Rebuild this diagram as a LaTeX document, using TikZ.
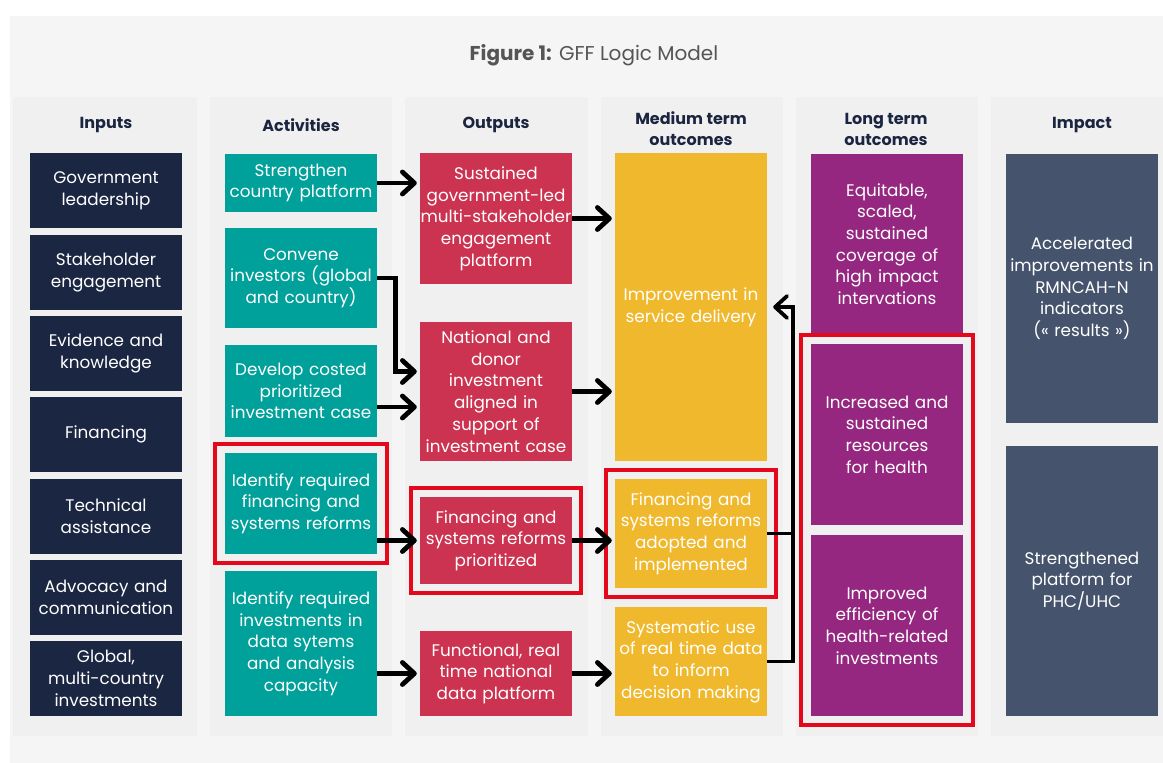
\documentclass[tikz,border=0pt]{standalone}
\usepackage{fontspec}
\setmainfont{Poppins}
\usetikzlibrary{arrows.meta,fit}
\definecolor{navybox}{RGB}{27,38,66}
\definecolor{tealbox}{RGB}{0,161,154}
\definecolor{crimbox}{RGB}{204,51,80}
\definecolor{yellbox}{RGB}{240,185,45}
\definecolor{purpbox}{RGB}{149,39,128}
\definecolor{slatebox}{RGB}{69,84,108}
\definecolor{redline}{RGB}{228,8,28}
\definecolor{hdrtext}{RGB}{27,37,64}
\definecolor{titlegray}{RGB}{85,85,85}
\definecolor{bgout}{RGB}{245,245,245}
\definecolor{bgpanel}{RGB}{240,240,240}

\begin{document}
\begin{tikzpicture}[x=1pt,y=1pt]
\tikzstyle{every node}+=[inner sep=0pt]
\tikzstyle{gffbox}=[rectangle, text width=152pt, align=center, text=white, font=\fontsize{16.8}{21.7}\selectfont]
\tikzstyle{inbox}=[gffbox, fill=navybox]
\tikzstyle{actbox}=[gffbox, fill=tealbox]
\tikzstyle{outbox}=[gffbox, fill=crimbox]
\tikzstyle{midbox}=[gffbox, fill=yellbox]
\tikzstyle{longbox}=[gffbox, fill=purpbox]
\tikzstyle{impbox}=[gffbox, fill=slatebox]
\tikzstyle{hdr}=[align=center, text=hdrtext, font=\fontsize{16}{21}\selectfont\bfseries]
\tikzstyle{redbox}=[draw=redline, line width=3.5pt, inner xsep=10pt, inner ysep=9pt]
\tikzstyle{feed}=[draw=black, line width=4.8pt]
\tikzstyle{arr}=[feed, -{Straight Barb[length=12pt,width=22pt,round]}, shorten >=3pt]
\fill[white] (0,0) rectangle (1163,-763);
\useasboundingbox (0,0) rectangle (1163,-763);
\fill[bgout] (10,-16) rectangle (1163,-763);
\fill[bgpanel] (13,-97) rectangle (197,-736);
\fill[bgpanel] (210,-97) rectangle (392,-736);
\fill[bgpanel] (405,-97) rectangle (588,-736);
\fill[bgpanel] (601,-97) rectangle (783,-736);
\fill[bgpanel] (796,-97) rectangle (978,-736);
\fill[bgpanel] (991,-97) rectangle (1163,-736);
\node[text=titlegray, font=\fontsize{20}{24}\selectfont] (title) at (594,-55) {\textbf{Figure 1:} GFF Logic Model};
\node[hdr] (hin) at (106,-125) {Inputs};
\node[hdr] (hact) at (301,-125) {Activities};
\node[hdr] (hout) at (496,-125) {Outputs};
\node[hdr] (hmid) at (691,-129) {Medium term\\outcomes};
\node[hdr] (hlong) at (886,-129) {Long term\\outcomes};
\node[hdr] (himp) at (1082,-125) {Impact};
\node[inbox, minimum height=75pt] (gov) at (106,-190.5) {Government\\leadership};
\node[inbox, minimum height=75pt] (stake) at (106,-272.5) {Stakeholder\\engagement};
\node[inbox, minimum height=75pt] (evid) at (106,-353.5) {Evidence and\\knowledge};
\node[inbox, minimum height=75pt] (fin) at (106,-434.5) {Financing};
\node[inbox, minimum height=75pt] (tech) at (106,-516.5) {Technical\\assistance};
\node[inbox, minimum height=75pt] (advo) at (106,-597.5) {Advocacy and\\communication};
\node[inbox, minimum height=75pt] (glob) at (106,-678.5) {Global,\\multi-country\\investments};
\node[actbox, minimum height=58pt] (strg) at (301,-183) {Strengthen\\country platform};
\node[actbox, minimum height=100pt] (conv) at (301,-278) {Convene\\investors (global\\and country)};
\node[actbox, minimum height=92pt] (devl) at (301,-391) {Develop costed\\prioritized\\investment case};
\node[actbox, minimum height=101pt] (idfin) at (301,-503.5) {Identify required\\financing and\\systems reforms};
\node[actbox, minimum height=145pt] (iddat) at (301,-643.5) {Identify required\\investments in\\data sytems\\and analysis\\capacity};
\node[outbox, minimum height=131pt] (sust) at (496,-218.5) {Sustained\\government-led\\multi-stakeholder\\engagement\\platform};
\node[outbox, minimum height=139pt] (natl) at (496,-391.5) {National and\\donor\\investment\\aligned in\\support of\\investment case};
\node[outbox, minimum height=87pt] (prio) at (496,-540.5) {Financing and\\systems reforms\\prioritized};
\node[outbox, minimum height=85pt] (func) at (496,-673.5) {Functional, real\\time national\\data platform};
\node[midbox, minimum height=308pt] (impr) at (691,-307) {Improvement in\\service delivery};
\node[midbox, minimum height=109pt] (adop) at (691,-533.5) {Financing and\\systems reforms\\adopted and\\implemented};
\node[midbox, minimum height=109pt] (syst) at (691,-661.5) {Systematic use\\of real time data\\to inform\\decision making};
\node[longbox, minimum height=180pt] (equi) at (887,-244) {Equitable,\\scaled,\\sustained\\coverage of\\high impact\\intervations};
\node[longbox, minimum height=181pt] (incr) at (887,-434.5) {Increased and\\sustained\\resources\\for health};
\node[longbox, minimum height=181pt] (effi) at (887,-625.5) {Improved\\efficiency of\\health-related\\investments};
\node[impbox, minimum height=269pt] (accel) at (1082,-288.5) {Accelerated\\improvements in\\RMNCAH-N\\indicators\\(« results »)};
\node[impbox, minimum height=270pt] (phc) at (1082,-581) {Strengthened\\platform for\\PHC/UHC};
\node[redbox, fit=(idfin)] (idfinfr) {};
\node[redbox, inner xsep=9pt, fit=(prio)] (priofr) {};
\node[redbox, inner xsep=9pt, fit=(adop)] (adopfr) {};
\node[redbox, fit=(incr)(effi)] (longfr) {};
\coordinate (fbk) at ([xshift=26pt]syst.east);
\draw[arr] (strg.east) -- (strg.east -| sust.west);
\draw[arr] (sust.east) -- (sust.east -| impr.west);
\draw[arr] (conv.east) -- ++(18,0) |- ([yshift=20pt]natl.west);
\draw[arr] ([yshift=-16pt]devl.east) -- ([yshift=-16pt]devl.east -| natl.west);
\draw[arr] (natl.east) -- (natl.east -| impr.west);
\draw[arr] (prio.west -| idfin.east) -- (prio.west);
\draw[arr] (prio.east) -- (prio.east -| adop.west);
\draw[arr] (func.west -| iddat.east) -- (func.west);
\draw[arr] (func.east) -- (func.east -| syst.west);
\draw[feed, line width=3.8pt] (adop.east) -- (adop.east -| fbk);
\draw[arr, line width=3.8pt, shorten >=6pt] (syst.east) -- (fbk) |- (impr.east);
\end{tikzpicture}
\end{document}
